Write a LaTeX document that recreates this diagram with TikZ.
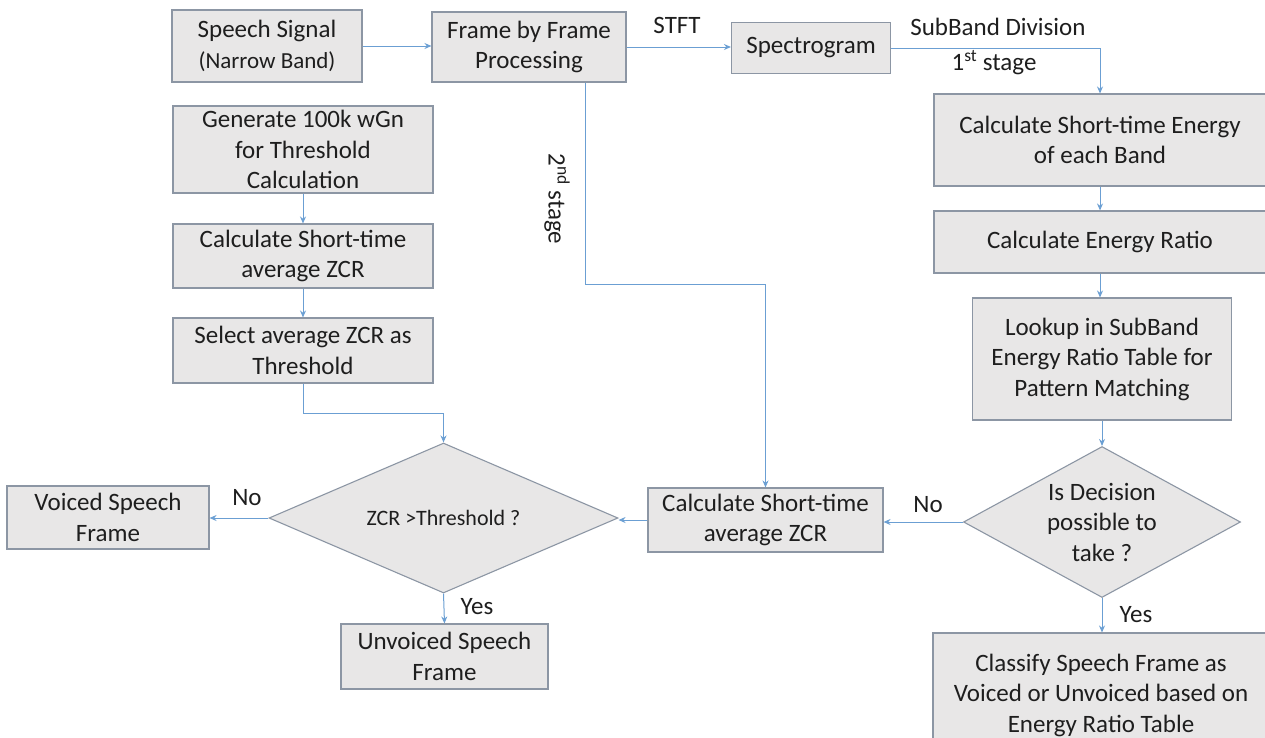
\documentclass[tikz,border=0pt]{standalone}
\usepackage{fontspec}
\setmainfont{Carlito}
\usetikzlibrary{arrows.meta,shapes.geometric}
\definecolor{boxfill}{HTML}{E8E7E7}
\definecolor{boxline}{HTML}{8C96A4}
\definecolor{arrcol}{HTML}{6B9FD3}
\definecolor{txt}{HTML}{1E1E1E}
\tikzset{
  box/.style={draw=boxline, fill=boxfill, line width=1.1pt, inner sep=0pt, align=center,
    text=txt, font=\fontsize{25}{30.5}\selectfont},
  dia/.style={diamond, draw=boxline, fill=boxfill, line width=1.1pt, inner sep=0pt, align=center,
    text=txt, font=\fontsize{25}{30.5}\selectfont, aspect=2},
  lbl/.style={text=txt, font=\fontsize{25}{30}\selectfont, inner sep=0pt},
  arr/.style={draw=arrcol, line width=1pt, -{Stealth[length=7pt,width=6pt]}},
}
\begin{document}
\begin{tikzpicture}[x=1pt,y=-1pt]
\useasboundingbox (0,0) rectangle (1265,737);
\begin{scope}
\clip (0,0) rectangle (1265,737);
% top row
\node[box, minimum width=190pt, minimum height=72pt] (speech) at (267,46) {Speech Signal\\{\fontsize{23}{30.5}\selectfont(Narrow Band)}};
\node[box, minimum width=194pt, minimum height=70pt] (frame) at (529,47) {Frame by Frame\\Processing};
\node[box, minimum width=159pt, minimum height=51pt] (spec) at (811,48) {Spectrogram};
% right column
\node[box, minimum width=332pt, minimum height=92pt] (ste) at (1100,140) {Calculate Short-time Energy\\of each Band};
\node[box, minimum width=332pt, minimum height=62pt] (er) at (1100,242) {Calculate Energy Ratio};
\node[box, minimum width=259pt, minimum height=122pt] (look) at (1102,359) {Lookup in SubBand\\Energy Ratio Table for\\Pattern Matching};
\node[dia, minimum width=277pt, minimum height=151pt] (d2) at (1102,522) {Is Decision\\possible to\\take ?};
\node[box, minimum width=336pt, minimum height=120pt, text depth=0pt] (cls) at (1101,693) {Classify Speech Frame as\\Voiced or Unvoiced based on\\Energy Ratio Table};
% left column
\node[box, minimum width=260pt, minimum height=87pt] (gen) at (303,149.5) {Generate 100k wGn\\for Threshold\\Calculation};
\node[box, minimum width=260pt, minimum height=64pt] (zcr1) at (303,256) {Calculate Short-time\\average ZCR};
\node[box, minimum width=260pt, minimum height=65pt] (sel) at (303,350.5) {Select average ZCR as\\Threshold};
% bottom row
\node[dia, minimum width=349pt, minimum height=150pt, font=\fontsize{22}{26}\selectfont] (d1) at (443.5,518) {ZCR >Threshold ?};
\node[box, minimum width=235pt, minimum height=64pt] (zcr2) at (765.5,520) {Calculate Short-time\\average ZCR};
\node[box, minimum width=202pt, minimum height=63pt] (voiced) at (108,517.5) {Voiced Speech\\Frame};
\node[box, minimum width=207pt, minimum height=65pt] (unv) at (444.5,656.5) {Unvoiced Speech\\Frame};
% labels
\node[lbl] (stft) at (677,25) {STFT};
\node[lbl] (sub) at (998,27) {SubBand Division};
\node[lbl] (st1) at (994,63) {1\textsuperscript{st} stage};
\node[lbl, rotate=-90] (st2) at (557,199) {2\textsuperscript{nd} stage};
\node[lbl] (no1) at (247,498) {No};
\node[lbl] (yes1) at (477,607) {Yes};
\node[lbl] (no2) at (928,505) {No};
\node[lbl] (yes2) at (1136,615) {Yes};
% connectors
\coordinate (k1) at (585,284);
\coordinate (k2) at (443.5,413);
\draw[arr] (speech.east) -- (speech.east -| frame.west);
\draw[arr] (frame.east) -- (frame.east -| spec.west);
\draw[arr] (spec.east) -| (ste.north);
\draw[arr] (ste.south) -- (er.north);
\draw[arr] (er.south) -- (er.south |- look.north);
\draw[arr] (look.south) -- (d2.north);
\draw[arr] (d2.south) -- (d2.south |- cls.north);
\draw[arr] (d2.west) -- (d2.west -| zcr2.east);
\draw[arr] (zcr2.west) -- (zcr2.west -| d1.east);
\draw[arr] (d1.west) -- (d1.west -| voiced.east);
\draw[arr] (d1.south) -- (unv.north);
\draw[arr] (gen.south) -- (zcr1.north);
\draw[arr] (zcr1.south) -- (sel.north);
\draw[arr] (sel.south) |- (k2) -- (d1.north);
\draw[arr] (frame.south -| k1) -- (k1) -| (zcr2.north);
\end{scope}
\end{tikzpicture}
\end{document}
